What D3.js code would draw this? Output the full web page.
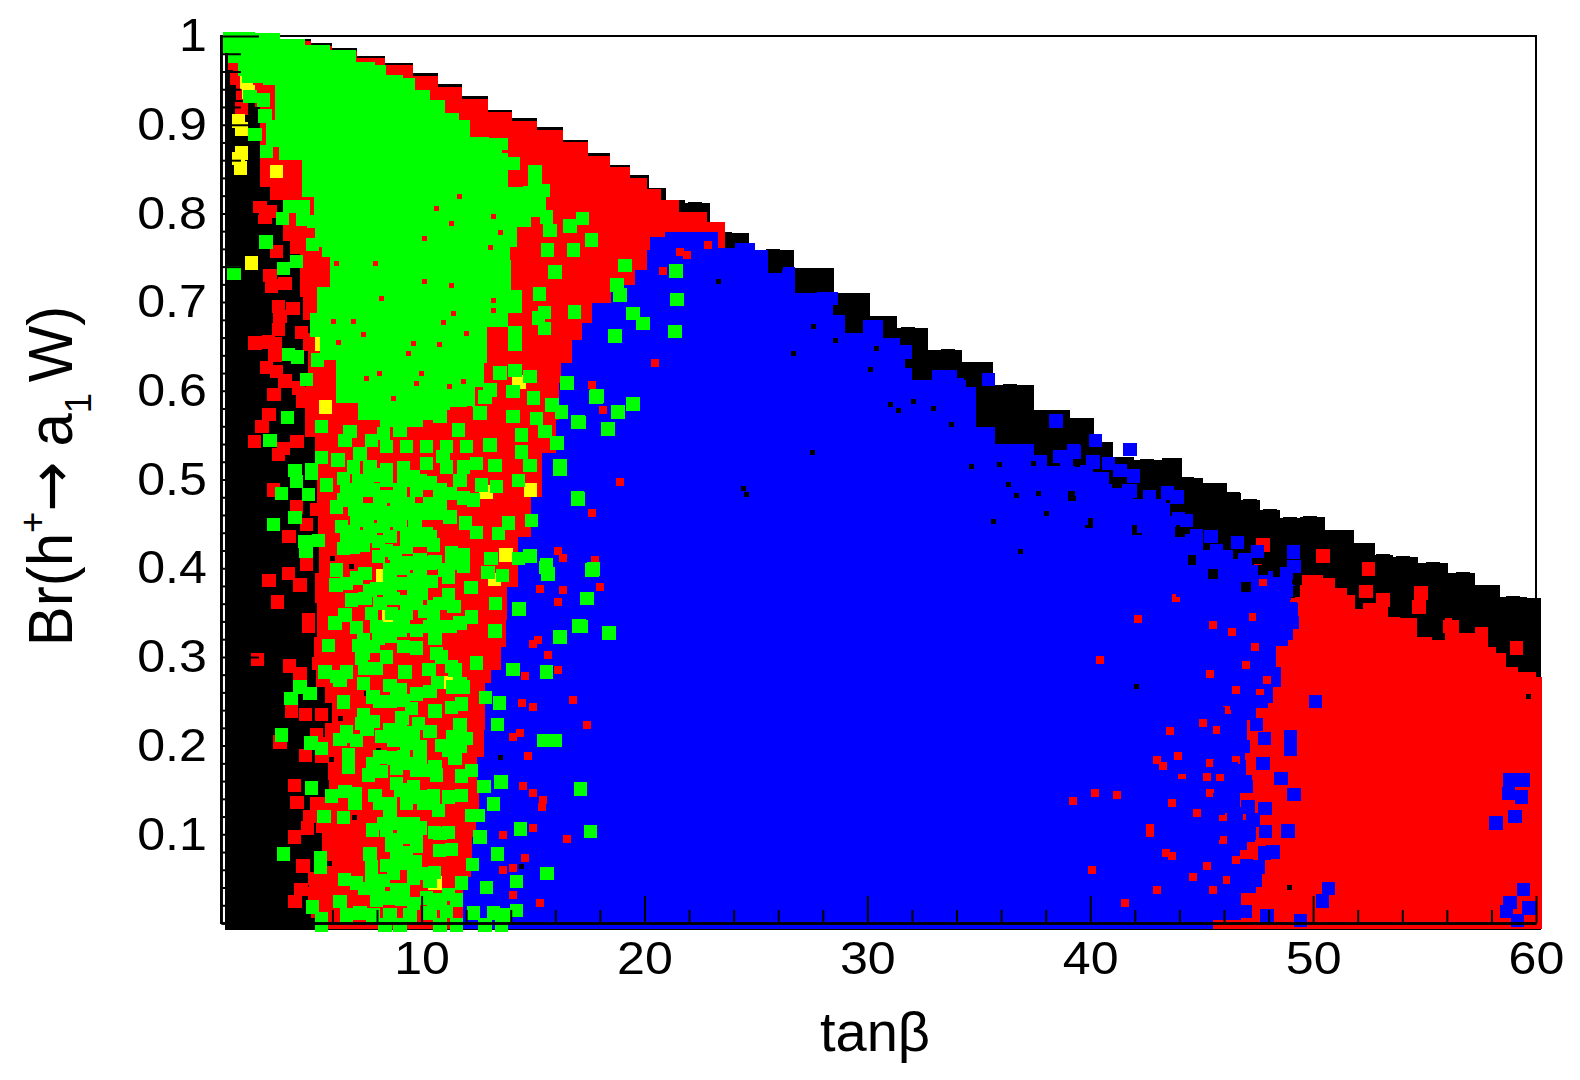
<!DOCTYPE html>
<html>
<head>
<meta charset="utf-8">
<script src="https://cdn.jsdelivr.net/npm/d3@7"></script>
<style>
  body { margin: 0; background: #fff; }
  text { font-family: "Liberation Sans", Arial, sans-serif; fill: #000; }
</style>
</head>
<body>
<div id="vis-holder"></div>
<script>
// Tick labels
const xMajorTicks = [10, 20, 30, 40, 50, 60];
const xMinorTicks = [2, 4, 6, 8, 12, 14, 16, 18, 22, 24, 26, 28, 32, 34, 36, 38, 42, 44, 46, 48, 52, 54, 56, 58];
const yMajorTicks = [0.1, 0.2, 0.3, 0.4, 0.5, 0.6, 0.7, 0.8, 0.9, 1];
const yMinorTicks = [0.02, 0.04, 0.06, 0.08, 0.12, 0.14, 0.16, 0.18, 0.22, 0.24, 0.26, 0.28, 0.32, 0.34, 0.36, 0.38,
  0.42, 0.44, 0.46, 0.48, 0.52, 0.54, 0.56, 0.58, 0.62, 0.64, 0.66, 0.68, 0.72, 0.74, 0.76, 0.78, 0.82, 0.84, 0.86, 0.88,
  0.92, 0.94, 0.96, 0.98];

// Dense regions, [tanb, Br] outlines
const blackRegion = [[1.17,1.003],[2.75,1.003],[4.54,.997],[5.5,.992],[6.47,.986],[7.7,.978],[9.03,.970],[10.2,.958],[11.27,.946],[12.4,.932],
  [13.52,.917],[14.6,.907],[15.76,.897],[16.9,.883],[18.0,.868],[18.9,.855],[19.8,.843],[20.6,.829],[21.37,.815],[22.27,.812],[23.61,.778],
  [25.76,.759],[27.65,.738],[29.35,.710],[30.88,.684],
  [31.82,.671],[33.62,.646],[34.83,.632],[36.4,.607],[38.51,.578],[39.67,.569],[40.66,.542],[41.42,.525],[42.54,.522],
  [43.93,.524],[44.34,.502],[45.82,.496],[46.4,.485],[47.16,.477],[48.06,.466],[48.96,.457],[49.86,.458],[51.2,.443],
  [52.46,.428],[53.13,.415],[54.03,.413],[55.37,.406],[56.72,.395],[57.84,.381],[58.96,.368],[60.22,.366],
  [60.22,-.008],[1.17,-.008]];

const redLeftRegion = [[4.54,.994],[5.5,.989],[6.47,.983],[7.7,.975],[9.03,.967],[10.2,.955],[11.27,.943],[12.4,.929],[13.52,.914],[14.6,.904],
  [15.76,.894],[16.9,.880],[18.0,.865],[18.9,.852],[19.8,.840],[20.4,.828],
  [21.05,.815],[22.04,.802],[23.61,.790],[23.61,.759],[22.49,.702],[18.0,.477],[13.52,-.007],
  [6.02,-.007],[5.22,.006],[4.90,.029],[4.99,.056],[5.76,.063],[5.31,.082],[5.76,.101],[4.77,.120],[5.22,.142],[6.47,.161],
  [5.13,.180],[5.31,.210],[5.98,.225],[6.02,.248],[5.31,.266],[5.22,.285],[4.99,.300],[5.35,.322],[5.22,.361],[5.22,.395],
  [5.58,.424],[5.13,.462],[5.44,.511],[4.99,.548],[4.54,.604],[5.13,.620],[4.68,.638],[5.13,.665],[4.99,.680],[4.41,.706],
  [4.68,.728],[4.41,.755],[3.87,.785],[3.65,.815],[2.75,.830],[2.75,.875],[2.75,.920],[2.30,.924],[1.85,.928],[1.54,.950],
  [1.54,.962],[1.13,.995]];

const redRightRegion = [[49.41,.368],[49.41,.392],[49.99,.392],[50.89,.389],[51.07,.364],[51.88,.354],[52.64,.361],[53.36,.370],
  [53.36,.345],[54.48,.344],[54.88,.322],[55.82,.319],[56.0,.344],[56.5,.342],[56.59,.327],[57.93,.334],[57.8,.311],[58.6,.304],
  [58.69,.289],[59.72,.283],[60.26,.277],[60.26,-.007],[42.68,-.007],[44.92,.251],[48.51,.364]];

const blueRegion = [[20.25,.773],[21.59,.779],[23.07,.779],[23.52,.761],[24.6,.767],[25.32,.759],[25.76,.733],[26.66,.740],
  [26.84,.710],[28.64,.711],[28.32,.685],[28.9,.685],[29.08,.665],[30.56,.680],[30.88,.660],[32.05,.652],[31.33,.623],[32.05,.612],
  [33.71,.623],[34.29,.612],[34.6,.604],[35.19,.590],[34.6,.559],[36.85,.540],[38.06,.528],[38.06,.515],[39.54,.515],[40.44,.508],
  [41.2,.495],[42.68,.478],[44.16,.458],[43.26,.452],[44.47,.438],[45.68,.420],[46.85,.410],[47.48,.400],[48.96,.390],[49.41,.380],
  [48.64,.364],[49.27,.361],[49.41,.334],[48.82,.319],[48.06,.316],[48.6,.289],[48.51,.266],[47.93,.248],[46.94,.229],[47.16,.198],
  [46.72,.184],[47.3,.158],[46.13,.131],[47.61,.116],[47.3,.094],[46.13,.071],[47.75,.063],[47.16,.034],[46.4,.034],[47.16,.003],
  [43.89,-.007],[11.86,-.007],[11.86,.052],[12.53,.068],[11.95,.097],[12.93,.120],[12.26,.150],[12.75,.187],[12.84,.218],[12.84,.271],
  [13.38,.285],[13.74,.311],[13.83,.342],[13.83,.379],[14.86,.435],[15.0,.480],[15.76,.530],[16.34,.567],[15.98,.609],[16.52,.631],
  [16.97,.657],[17.42,.676],[17.91,.699],[19.12,.719],[20.02,.736],[20.25,.759]];

const greenRegion = [[1.09,1.005],[2.0,1.004],[3.06,1.003],[4.2,.997],[5.31,.990],[6.47,.984],[7.68,.971],[8.13,.967],[8.72,.956],[9.61,.953],[9.79,.939],
  [10.96,.928],[11.18,.913],[12.17,.905],[12.17,.886],[13.88,.885],[13.88,.871],[13.38,.868],[14.41,.830],[15.63,.830],[15.54,.796],
  [14.28,.785],[14.28,.762],[13.61,.747],[14.41,.714],[14.64,.688],[13.07,.672],[12.84,.631],[12.75,.604],[12.04,.582],[10.51,.575],
  [8.45,.559],[7.82,.567],[6.47,.586],[5.89,.635],[4.99,.661],[4.99,.688],[5.58,.717],[6.2,.751],[4.9,.762],[5.53,.793],[4.86,.818],
  [4.41,.860],[2.75,.875],[3.33,.905],[3.51,.945],[2.3,.947],[1.54,.970],[1.09,.981]];

// Single points that stand out of the regions
const blackPoints = [[21.37,.808],[22.27,.805],[23.61,.771],[25.76,.752],[27.65,.731],[29.35,.703],[30.88,.677],[31.82,.664],[33.62,.639],
  [34.83,.625],[36.4,.600],[38.51,.571],[39.67,.562],[40.66,.535],[41.42,.518],[42.54,.515],[43.66,.516],[44.34,.495],[45.82,.489],[46.4,.478],
  [47.16,.470],[48.06,.459],[48.96,.450],[49.86,.451],[51.2,.436],[52.46,.421],[53.13,.408],[54.03,.406],[55.37,.399],[56.72,.388],[57.84,.374],
  [58.96,.361],[59.9,.359]];

const redPoints = [[1.70,.952],[1.93,.918],[2.75,.806],[2.97,.796],[3.2,.802],[3.05,.838],[3.05,.845],[3.5,.757],[3.2,.730],[3.27,.718],
  [3.57,.695],[3.65,.684],[4.24,.693],[3.87,.721],[2.53,.654],[3.12,.655],[3.42,.653],[3.57,.669],[3.42,.640],[4.62,.666],[4.99,.653],
  [3.05,.626],[3.5,.622],[3.87,.611],[3.38,.596],[4.47,.603],[4.69,.588],[3.15,.573],[2.85,.560],[2.5,.543],[3.57,.528],[3.8,.535],
  [4.4,.543],[4.1,.777],[4.4,.762],[3.35,.488],[4.39,.469],[4.05,.436],[5.29,.466],[4.84,.449],[4.02,.394],[3.15,.386],[4.54,.381],
  [4.84,.404],[3.54,.362],[4.92,.342],[4.92,.334],[2.63,.297],[4.07,.290],[4.54,.281],[3.65,.204],[4.17,.239],[4.8,.235],[5.52,.235],
  [5.29,.212],[4.8,.189],[4.29,.155],[4.4,.136],[4.99,.120],[4.89,.107],[4.29,.097],[4.69,.064],[5.22,.050],[4.59,.038],[4.32,.024],
  [5.22,.033],[50.45,.414],[52.49,.399],[52.37,.374],[54.83,.372],[54.74,.356],[59.13,.310],[47.76,.426],[51.2,.370],[51.57,.362],
  [53.14,.364],[52.92,.353],[56.14,.334]];

const yellowPoints = [[2.36,.744],[3.5,.847],[1.78,.904],[1.93,.895],[1.93,.868],[1.78,.862],[1.88,.851],[2.15,.948],[2.23,.937],
  [5.68,.582],[14.37,.610],[6.19,.710],[13.59,.710],[5.52,.653],[14.89,.488],[13.79,.415],[13.26,.387],[12.89,.486],[11.09,.271],
  [8.51,.345],[10.6,.045],[8.25,.392]];

const bluePoints = [[50.11,.250],[47.46,.224],[47.82,.208],[48.99,.210],[48.99,.196],[47.76,.180],[48.55,.163],[49.14,.145],[47.85,.129],
  [47.07,.131],[48.88,.104],[47.87,.103],[50.68,.039],[50.41,.025],[47.82,.079],[48.21,.080],[49.44,.003],[47.94,.008],[59.43,.038],
  [58.83,.023],[59.68,.017],[59.16,.003],[58.68,.013],[58.2,.113],[59.05,.120],[59.35,.142],[58.83,.161],[59.43,.161],[58.77,.146],
  [46.56,.042],[47.39,.048],[47.01,.064],[47.54,.063],[46.56,.052],[46.94,.013],[45.74,.236],[47.01,.154],[46.94,.159],[45.82,.139],
  [45.74,.129],[46.56,.116],[47.31,.116],[46.56,.105],[47.09,.099],[46.71,.090],[45.52,.101],[45.82,.176],[46.34,.174],[44.62,.180],
  [44.02,.176],[46.41,.206],[46.86,.199],[46.12,.221],[46.56,.248],[47.69,.250],[47.01,.263],[41.78,.534],[40.24,.544],[39.27,.531],
  [46.61,.429],[47.51,.419],[49.11,.418],[49.15,.402],[48.81,.394],[48.99,.354],[48.36,.338],[49.08,.339],[48.58,.320],[47.76,.343],
  [46.94,.409],[41.81,.487],[41.93,.504],[42.65,.481],[43.9,.480],[43.47,.485],[40.63,.483],[38.71,.499],[38.68,.482],[40.21,.464],
  [41.33,.510],[44.32,.454],[43.95,.456],[44.77,.437],[45.41,.436],[44.25,.425],[46.12,.413],[45.07,.407],[38.46,.566],[35.43,.613],
  [34.04,.607],[31.69,.618],[31.69,.644],[28.62,.676],[26.46,.729],[28.4,.704],[30.35,.670],[39.24,.532],[38.64,.500],
  [39.69,.492],[39.09,.503],[39.84,.509],[40.81,.518],[40.13,.520],[38.64,.526],[38.94,.516],[40.58,.466],[41.33,.462],[42.38,.447],
  [43.27,.466],[43.5,.451],[42.83,.454],[40.43,.451],[39.09,.462],[38.64,.458],[39.61,.456],[45.67,.420],[46.12,.394],[46.86,.398],
  [47.24,.396],[47.76,.372],[48.36,.372],[48.81,.375],[44.17,.375],[44.77,.394],[43.42,.409]];

const greenPoints = [[3.72,.484],[4.39,.498],[4.92,.483],[5.07,.507],[5.74,.494],[6.49,.501],[7.16,.499],[7.91,.505],[8.43,.481],[9.03,.488],
  [9.63,.503],[10.38,.496],[10.83,.477],[11.27,.484],[11.87,.479],[12.32,.477],[11.72,.499],[12.69,.494],[13.37,.492],[14.34,.499],
  [17.0,.479],[16.21,.511],[4.32,.457],[3.35,.449],[6.19,.469],[6.49,.477],[7.01,.467],[7.61,.466],[8.21,.462],[9.11,.462],[9.78,.466],
  [10.53,.462],[11.27,.458],[11.98,.451],[12.47,.440],[13.44,.439],[13.89,.451],[14.94,.454],[6.41,.447],[6.94,.441],[7.68,.443],
  [8.28,.447],[9.03,.449],[9.7,.451],[10.23,.439],[9.63,.439],[4.77,.430],[5.37,.431],[4.81,.419],[6.49,.422],[7.39,.426],[8.06,.430],
  [8.43,.420],[8.81,.417],[9.33,.424],[10.53,.426],[9.93,.432],[8.06,.413],[9.93,.409],[11.35,.417],[11.87,.415],[10.6,.407],[11.87,.402],
  [13.11,.411],[14.34,.411],[14.86,.414],[15.61,.404],[15.69,.394],[17.71,.399],[6.19,.398],[8.58,.398],[9.18,.400],[9.93,.394],[7.46,.394],
  [11.05,.398],[11.2,.390],[12.99,.395],[13.62,.392],[6.16,.381],[6.64,.383],[7.09,.389],[7.98,.377],[9.03,.383],[10.45,.385],[12.22,.378],
  [6.86,.364],[7.46,.366],[8.73,.366],[9.33,.362],[10.0,.372],[11.2,.370],[11.45,.357],[10.53,.357],[13.31,.360],[17.45,.366],[14.38,.354],
  [7.76,.349],[6.56,.347],[6.11,.338],[7.09,.333],[7.98,.334],[8.66,.349],[9.33,.349],[10.15,.351],[9.78,.330],[8.58,.332],[12.25,.345],
  [11.72,.338],[11.27,.334],[13.29,.329],[17.15,.334],[16.21,.323],[5.82,.313],[7.16,.313],[8.06,.321],[7.83,.312],[9.18,.312],[9.78,.310],
  [8.58,.323],[9.03,.330],[10.6,.321],[10.9,.300],[12.47,.293],[7.31,.298],[7.46,.287],[7.98,.287],[8.43,.300],[10.33,.286],[9.26,.283],
  [11.5,.285],[14.1,.286],[15.61,.283],[5.67,.283],[6.19,.278],[6.64,.283],[6.34,.274],[7.39,.270],[4.54,.266],[4.99,.259],[4.14,.253],
  [8.58,.268],[9.03,.263],[8.13,.250],[8.58,.250],[9.18,.251],[9.78,.258],[10.38,.261],[10.71,.271],[11.72,.270],[12.87,.254],[13.49,.248],
  [6.49,.249],[9.55,.242],[10.6,.239],[11.35,.243],[11.8,.247],[7.39,.235],[7.31,.225],[7.83,.227],[9.11,.231],[9.85,.225],[9.03,.218],
  [9.63,.214],[10.38,.216],[11.72,.223],[11.42,.210],[12.02,.208],[13.41,.224],[3.72,.212],[5.04,.203],[5.52,.197],[6.64,.216],[6.34,.207],
  [7.09,.206],[8.21,.210],[8.73,.206],[9.33,.203],[9.93,.199],[10.9,.200],[11.2,.195],[15.48,.206],[16.0,.206],[6.71,.190],[6.71,.176],
  [7.83,.180],[8.73,.186],[7.61,.167],[8.21,.171],[8.88,.174],[9.33,.180],[9.93,.184],[10.6,.176],[10.68,.167],[11.5,.186],[11.8,.166],
  [12.25,.172],[5.07,.152],[9.08,.150],[9.63,.154],[12.81,.154],[13.56,.159],[17.12,.151],[5.96,.143],[6.56,.148],[7.01,.146],[7.91,.144],
  [7.01,.135],[8.58,.135],[9.93,.142],[10.53,.144],[11.2,.142],[11.8,.144],[10.08,.135],[13.22,.134],[10.75,.127],[5.62,.120],[6.49,.119],
  [8.58,.124],[8.88,.112],[9.4,.112],[9.93,.107],[12.25,.121],[12.55,.121],[7.8,.105],[8.43,.105],[8.66,.094],[9.18,.097],[10.57,.102],
  [11.2,.102],[12.62,.097],[14.43,.106],[17.57,.103],[3.8,.078],[5.46,.073],[8.66,.088],[9.33,.079],[10.8,.082],[11.35,.083],[13.4,.078],
  [7.68,.078],[5.47,.063],[8.43,.065],[9.03,.067],[9.7,.069],[7.76,.063],[12.29,.066],[7.76,.050],[6.53,.049],[7.09,.045],[8.28,.048],
  [9.63,.050],[10.57,.057],[15.63,.056],[7.46,.039],[8.06,.035],[10.38,.047],[11.8,.045],[12.92,.040],[14.25,.047],[9.63,.063],[6.34,.024],
  [5.1,.018],[7.98,.026],[8.58,.028],[9.11,.027],[10.23,.028],[10.83,.026],[11.2,.032],[11.57,.026],[6.64,.009],[7.24,.011],[7.83,.009],
  [8.58,.009],[9.48,.009],[10.38,.011],[11.12,.013],[12.32,.011],[13.22,.011],[13.74,.009],[14.26,.014],[5.52,.005],[5.52,-.002],[8.36,-.002],
  [9.03,-.002],[10.83,-.002],[11.57,-.002],[12.84,-.002],[13.59,-.002],
  [2.08,.962],[2.3,.932],[2.9,.928],[2.97,.910],[2.53,.889],[3.65,.886],[3.05,.870],[14.11,.856],[15.09,.847],[15.09,.838],[14.86,.823],
  [15.46,.826],[15.61,.796],[15.76,.781],[16.66,.786],[17.23,.794],[15.64,.759],[16.81,.759],[17.63,.770],[15.98,.734],[15.28,.709],
  [15.51,.688],[16.85,.689],[15.24,.682],[15.51,.670],[14.19,.652],[14.19,.665],[3.02,.768],[1.58,.733],[3.8,.738],[4.39,.746],[3.75,.794],
  [4.1,.808],[4.69,.808],[5.14,.791],[4.69,.793],[5.11,.765],[4.02,.641],[4.44,.638],[5.32,.635],[4.84,.613],[3.98,.570],[5.52,.560],
  [3.2,.544],[6.79,.554],[6.56,.544],[7.76,.544],[7.24,.529],[5.52,.525],[6.26,.522],[4.32,.510],[5.07,.511],[16.51,.608],[17.82,.593],
  [15.01,.592],[14.19,.623],[14.86,.616],[13.52,.620],[12.84,.593],[13.07,.601],[14.11,.599],[15.84,.584],[16.28,.576],[17.06,.564],
  [14.11,.571],[15.16,.569],[15.54,.554],[16.09,.541],[14.49,.550],[14.49,.531],[14.86,.516],[16.21,.515],[12.62,.575],[11.65,.556],
  [10.83,.571],[10.38,.575],[9.78,.567],[9.03,.556],[8.28,.552],[13.07,.539],[13.29,.516],[12.47,.518],[10.97,.526],[10.23,.518],[9.18,.513],
  [8.43,.511],
  [16.52,.609],[17.02,.565],[17.87,.594],[18.81,.576],[19.48,.585],[18.36,.557],[18.68,.662],[19.48,.687],[19.93,.676],[21.41,.735],
  [21.46,.703],[21.37,.667],[19.12,.741],[18.9,.708],[16.07,.541],[17.02,.478],[17.64,.398],[17.42,.366],[17.06,.335],[16.21,.322],
  [18.41,.327],[15.58,.401],[15.67,.393],[18.76,.719]];

// Fills the gaps inside the green clumps below the solid part
const greenClumpPoints = [[8.43,.537],[9.33,.537],[10.23,.537],[11.12,.537],[12.02,.537],[6.94,.514],[7.68,.514],[11.12,.514],[11.87,.514],
  [7.54,.499],[8.43,.499],[9.18,.499],[9.93,.499],[6.64,.488],[7.24,.488],[7.83,.488],[9.78,.488],[10.83,.488],
  [7.09,.473],[8.13,.473],[8.88,.473],[9.4,.473],[10.38,.473],[7.98,.462],[8.73,.462],[9.33,.462],[10.15,.462],[10.83,.462],
  [7.09,.454],[7.54,.454],[8.66,.454],[6.64,.436],[7.09,.436],[7.54,.436],[8.58,.436],[9.33,.436],[10.38,.436],[6.94,.424],
  [8.88,.406],[9.48,.406],[10.38,.406],[11.35,.406],[8.58,.387],[9.63,.387],[9.93,.387],[7.68,.375],[8.58,.375],[9.63,.375],
  [8.13,.360],[9.78,.360],[10.83,.360],[9.03,.345],[10.53,.345],[9.18,.334],[10.38,.334],[10.83,.334],[7.39,.319],[7.39,.304],[10.68,.304],
  [11.35,.289],[11.87,.266],[11.42,.266],[7.83,.255],[8.88,.255],[7.54,.218],[8.58,.218],[6.64,.210],[11.42,.199],[11.72,.199],
  [8.13,.187],[9.18,.187],[9.78,.172],[10.38,.172],[8.88,.157],[9.33,.144],[8.13,.135],[9.33,.135],[10.53,.135],[8.28,.112],[9.63,.112],
  [9.78,.101],[10.83,.101],[8.88,.086],[9.78,.086],[8.88,.075],[8.73,.056],[10.08,.056],[8.88,.037],[9.18,.037],[9.63,.022],[10.53,.022]];

// Small leftovers, visible as specks between the marks
const redBits = [[16.13,.419],[16.36,.411],[15.31,.377],[16.36,.375],[16.13,.362],[15.01,.315],[15.24,.319],[15.68,.302],[14.64,.278],
  [16.13,.285],[14.49,.248],[15.01,.244],[16.81,.251],[17.4,.223],[14.1,.210],[14.41,.214],[14.79,.188],[14.56,.154],[15.01,.146],
  [15.46,.139],[15.39,.131],[15.01,.107],[16.51,.095],[14.64,.073],[14.1,.062],[15.31,.022],[14.1,.032],[13.67,.099],[13.67,.060],
  [20.85,.735],[21.6,.757],[21.9,.753],[22.87,.764],[20.47,.631],[17.63,.607],[18.16,.578],[17.63,.462],[17.78,.409],[18.0,.379],[18.9,.497],
  [43.57,.216],[43.27,.177],[42.98,.184],[43.95,.188],[44.1,.167],[43.65,.135],[42.68,.107],[42.68,.101],[43.65,.075],[43.42,.079],
  [45.07,.225],[45.67,.218],[46.12,.240],[44.77,.124],[45.22,.064],[44.62,.052],[42.98,.037],[41.55,.022],[40.06,.060],[41.18,.144],
  [39.24,.137],[40.21,.146],[45.37,.180],[45.22,.165],[45.82,.165],[46.56,.184],[45.37,.146],[45.97,.120],[45.97,.094],[46.56,.071],
  [46.12,.048],[45.52,.037],[43.87,.366],[42.15,.343],[46.34,.328],[45.52,.336],[47.39,.311],[40.43,.296],[47.01,.291],[45.37,.281],
  [47.61,.259],[46.56,.263],[47.91,.274],[47.31,.345],[47.76,.383],[47.54,.400]];

const blackBits = [[27.58,.672],[28.55,.657],[26.68,.642],[30.42,.648],[30.12,.624],[31.02,.585],[31.39,.578],[32.06,.588],[32.96,.580],
  [33.78,.562],[34.68,.515],[35.95,.517],[37.45,.518],[36.33,.494],[36.7,.482],[37.67,.484],[38.05,.462],[35.65,.453],[39.24,.479],
  [24.44,.490],[24.59,.483],[23.32,.723],[27.53,.531],[36.85,.419],[42.08,.267],[48.96,.040],[59.65,.255],[6.86,.402],[6.0,.411],
  [7.54,.259],[6.34,.231],[8.06,.195],[5.96,.184],[7.01,.119],[5.89,.067],[13.52,.187],[14.49,.064]];

// Larger black patches left between the blue points near the upper edge
const blackHoles = [[39.54,.520],[39.09,.481],[41.18,.496],[41.7,.518],[43.13,.494],[43.65,.477],[44.62,.409],[44.02,.441],[45.52,.394],
  [42.08,.443],[39.98,.451],[47.76,.398],[49.26,.387],[48.06,.402],[47.01,.379]];

const greenGaps = [[11.72,.819],[10.68,.806],[13.22,.796],[11.35,.789],[13.52,.778],[10.15,.772],[13.07,.762],[7.91,.744],[6.19,.744],
  [10.15,.723],[11.35,.719],[8.21,.704],[13.22,.702],[13.22,.691],[11.42,.687],[10.97,.677],[12.02,.665],[9.63,.653],[10.82,.652],[9.41,.642],
  [7.39,.663],[6.94,.678],[6.04,.678],[6.26,.655],[8.13,.620],[7.54,.614],[10.0,.620],[9.78,.608],[11.27,.605],[11.87,.610],[10.23,.578],
  [8.73,.591],[12.17,.580],[11.27,.576]];

// Set margins and dimensions
const width = 1580;
const height = 1080;
const margin = { top: 36, right: 44, bottom: 157, left: 221 };
const pointSize = 13.5;

const svg = d3.select("#vis-holder")
              .append("svg")
              .attr("width", width)
              .attr("height", height)
              .attr("viewBox", [0, 0, width, height])
              .style("display", "block");

const x = d3.scaleLinear().domain([1, 60]).range([margin.left, width - margin.right]);
const y = d3.scaleLinear().domain([0, 1]).range([height - margin.bottom, margin.top]);

// Frame sits under the points
svg.append("rect")
   .attr("x", margin.left)
   .attr("y", margin.top)
   .attr("width", width - margin.left - margin.right)
   .attr("height", height - margin.top - margin.bottom)
   .attr("fill", "none")
   .attr("stroke", "#000")
   .attr("stroke-width", 2);

const outline = d3.line()
                  .x((d) => x(d[0]))
                  .y((d) => y(d[1]))
                  .curve(d3.curveStep);

function addRegion(points, color) {
  svg.append("path")
     .attr("d", outline(points) + "Z")
     .attr("fill", color)
     .attr("shape-rendering", "crispEdges");
}

function addPoints(points, color, size) {
  svg.append("g")
     .attr("fill", color)
     .attr("shape-rendering", "crispEdges")
     .selectAll("rect")
     .data(points)
     .enter()
     .append("rect")
       .attr("x", (d) => x(d[0]) - size / 2)
       .attr("y", (d) => y(d[1]) - size / 2)
       .attr("width", size)
       .attr("height", size);
}

// Painted back to front, the same way the scan overplots
addRegion(blackRegion, "#000000");
addPoints(blackPoints, "#000000", pointSize);
addRegion(redLeftRegion, "#ff0000");
addRegion(redRightRegion, "#ff0000");
addPoints(redPoints, "#ff0000", pointSize);
addPoints(yellowPoints, "#ffff00", pointSize);
addRegion(blueRegion, "#0000ff");
addPoints(redBits, "#ff0000", 8);
addPoints(blackBits, "#000000", 5);
addPoints(blackHoles, "#000000", 10);
addPoints(bluePoints, "#0000ff", pointSize);
addRegion(greenRegion, "#00ff00");
addPoints(greenGaps, "#ff0000", 5);
addPoints(greenClumpPoints, "#00ff00", pointSize);
addPoints(greenPoints, "#00ff00", pointSize);

// Axes go on top, ticks point into the plot
const xAxisY = height - margin.bottom;

const xMinor = svg.append("g")
   .attr("transform", `translate(0,${xAxisY})`)
   .call(d3.axisBottom(x).tickValues(xMinorTicks).tickSize(-13).tickSizeOuter(0).tickFormat(""));

const xMajor = svg.append("g")
   .attr("transform", `translate(0,${xAxisY})`)
   .call(d3.axisBottom(x).tickValues(xMajorTicks).tickSize(-27).tickSizeOuter(0).tickPadding(18));

const yMinor = svg.append("g")
   .attr("transform", `translate(${margin.left},0)`)
   .call(d3.axisLeft(y).tickValues(yMinorTicks).tickSize(-20).tickSizeOuter(0).tickFormat(""));

const yMajor = svg.append("g")
   .attr("transform", `translate(${margin.left},0)`)
   .call(d3.axisLeft(y).tickValues(yMajorTicks).tickSize(-38).tickSizeOuter(0).tickPadding(13).tickFormat((d) => d3.format("")(d)));

[xMinor, xMajor, yMinor, yMajor].forEach((g) => {
  g.attr("font-size", 46).attr("font-family", null);
  g.selectAll("line").attr("stroke", "#000").attr("stroke-width", 2);
  g.selectAll("path").attr("stroke", "#000").attr("stroke-width", 2.5);
  // the original lettering is a bit wider than the font
  g.selectAll("text").attr("fill", "#000").attr("transform", "scale(1.09,1)");
});

// Axis titles
svg.append("text")
   .attr("x", 875)
   .attr("y", 1051)
   .attr("text-anchor", "middle")
   .attr("font-size", 56)
   .text("tanβ");

const yTitle = svg.append("text")
   .attr("transform", "translate(72,476) rotate(-90) scale(1.07,1.11)")
   .attr("text-anchor", "middle")
   .attr("font-size", 56);

yTitle.append("tspan").text("Br(h");
yTitle.append("tspan").attr("font-size", 34).attr("dy", -24).text("+");
yTitle.append("tspan").attr("dy", 24).attr("style", "font-family:'DejaVu Sans'").attr("font-size", 56).text("→");
yTitle.append("tspan").attr("dx", 14).text("a");
yTitle.append("tspan").attr("font-size", 34).attr("dy", 17).text("1");
yTitle.append("tspan").attr("dx", 10).attr("dy", -17).text("W)");
</script>
</body>
</html>
